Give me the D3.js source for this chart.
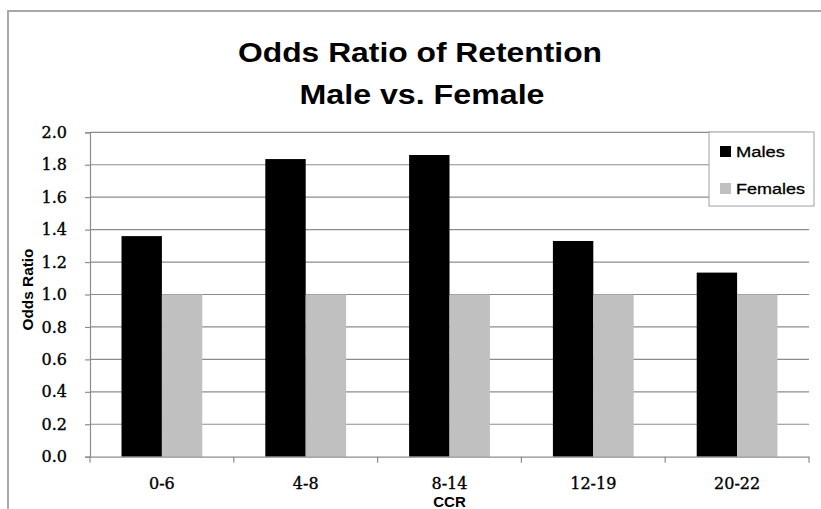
<!DOCTYPE html>
<html><head><meta charset="utf-8">
<script src="https://cdn.jsdelivr.net/npm/d3@7"></script>
<style>body{margin:0;background:#fff;} svg{display:block;}</style>
</head><body>
<svg id="chart" width="821" height="509"></svg>
<script>
const categories = ["0-6", "4-8", "8-14", "12-19", "20-22"];
const seriesNames = ["Males", "Females"];
const males = [1.36, 1.835, 1.86, 1.33, 1.135];
const females = [1.0, 1.0, 1.0, 1.0, 1.0];
const yTicks = [0, 0.2, 0.4, 0.6, 0.8, 1.0, 1.2, 1.4, 1.6, 1.8, 2.0];
const colors = ["#000000", "#c0c0c0"];

const svg = d3.select("#chart");
const W = 821, H = 509;
const m = {left: 90, right: 12, top: 132.3, bottom: 52.3};
const pw = W - m.left - m.right, ph = H - m.top - m.bottom;
const serif = "DejaVu Serif, serif";
const sans = "Liberation Sans, Arial, sans-serif";

// outer frame
svg.append("rect").attr("x", 8).attr("y", 11).attr("width", 840).attr("height", 540)
  .attr("fill", "none").attr("stroke", "#a8a8a8").attr("stroke-width", 2);

const x = d3.scaleBand().domain(categories).range([m.left, m.left + pw]).paddingInner(0).paddingOuter(0);
const xs = d3.scaleBand().domain(seriesNames).range([0, x.bandwidth()]).paddingInner(0).paddingOuter(0.78);
const y = d3.scaleLinear().domain([0, 2]).range([m.top + ph, m.top]);

// gridlines
svg.append("g").selectAll("line").data(yTicks.filter(d => d > 0)).join("line")
  .attr("x1", m.left).attr("x2", m.left + pw)
  .attr("y1", d => y(d)).attr("y2", d => y(d))
  .attr("stroke", "#8c8c8c").attr("stroke-width", 1.2);

// y axis
const yAxis = svg.append("g").attr("transform", `translate(${m.left},0)`)
  .call(d3.axisLeft(y).tickValues(yTicks).tickFormat(d3.format(".1f")).tickSize(5).tickPadding(18));
yAxis.select(".domain").attr("stroke", "#8c8c8c").attr("stroke-width", 1.2);
yAxis.selectAll(".tick line").attr("stroke", "#8c8c8c").attr("stroke-width", 1.2);
yAxis.selectAll("text").attr("font-family", serif).attr("font-size", 16).attr("fill", "#000")
  .attr("stroke", "#000").attr("stroke-width", 0.35);

// bars
const data = categories.map((c, i) => ({c, vals: [males[i], females[i]]}));
const groups = svg.append("g").selectAll("g").data(data).join("g")
  .attr("transform", d => `translate(${x(d.c)},0)`);
groups.selectAll("rect").data(d => d.vals.map((v, j) => ({name: seriesNames[j], v, j}))).join("rect")
  .attr("x", d => xs(d.name)).attr("width", xs.bandwidth())
  .attr("y", d => y(d.v)).attr("height", d => y(0) - y(d.v))
  .attr("fill", d => colors[d.j]);

// x axis
const xAxis = svg.append("g").attr("transform", `translate(0,${m.top + ph})`)
  .call(d3.axisBottom(x).tickSize(0).tickPadding(21));
xAxis.select(".domain").attr("stroke", "#8c8c8c").attr("stroke-width", 1.2);
xAxis.selectAll("text").attr("font-family", serif).attr("font-size", 16).attr("fill", "#000")
  .attr("stroke", "#000").attr("stroke-width", 0.35);
// boundary tick marks
const bounds = categories.map(c => x(c)).concat([x(categories[categories.length - 1]) + x.bandwidth()]);
svg.append("g").selectAll("line").data(bounds).join("line")
  .attr("x1", d => d).attr("x2", d => d)
  .attr("y1", m.top + ph).attr("y2", m.top + ph + 6)
  .attr("stroke", "#8c8c8c").attr("stroke-width", 1.2);

// titles
svg.append("text").attr("text-anchor", "middle").attr("x", 420).attr("y", 62)
  .attr("font-family", sans).attr("font-weight", "bold").attr("font-size", 27).attr("fill", "#000")
  .attr("textLength", 364).attr("lengthAdjust", "spacingAndGlyphs").text("Odds Ratio of Retention");
svg.append("text").attr("text-anchor", "middle").attr("x", 422).attr("y", 104)
  .attr("font-family", sans).attr("font-weight", "bold").attr("font-size", 27).attr("fill", "#000")
  .attr("textLength", 245).attr("lengthAdjust", "spacingAndGlyphs").text("Male vs. Female");

svg.append("text").attr("transform", `translate(33,${y(1) - 5}) rotate(-90)`)
  .attr("text-anchor", "middle").attr("font-family", sans)
  .attr("font-weight", "bold").attr("font-size", 15)
  .attr("textLength", 82).attr("lengthAdjust", "spacingAndGlyphs").text("Odds Ratio");

svg.append("text").attr("x", x("8-14") + x.bandwidth() / 2).attr("y", 507)
  .attr("text-anchor", "middle").attr("font-family", sans)
  .attr("font-weight", "bold").attr("font-size", 15).text("CCR");

// legend
const lg = svg.append("g");
lg.append("rect").attr("x", 709).attr("y", 132).attr("width", 105).attr("height", 74)
  .attr("fill", "#fff").attr("stroke", "#a0a0a0").attr("stroke-width", 1);
const legW = [49, 69];
seriesNames.forEach((n, i) => {
  const base = 157 + i * 37;
  lg.append("rect").attr("x", 720).attr("y", base - 11).attr("width", 11).attr("height", 11).attr("fill", colors[i]);
  lg.append("text").attr("x", 736).attr("y", base).attr("font-family", sans)
    .attr("font-size", 15.5).attr("fill", "#000").attr("stroke", "#000").attr("stroke-width", 0.3)
    .attr("textLength", legW[i]).attr("lengthAdjust", "spacingAndGlyphs").text(n);
});
</script>
</body></html>
